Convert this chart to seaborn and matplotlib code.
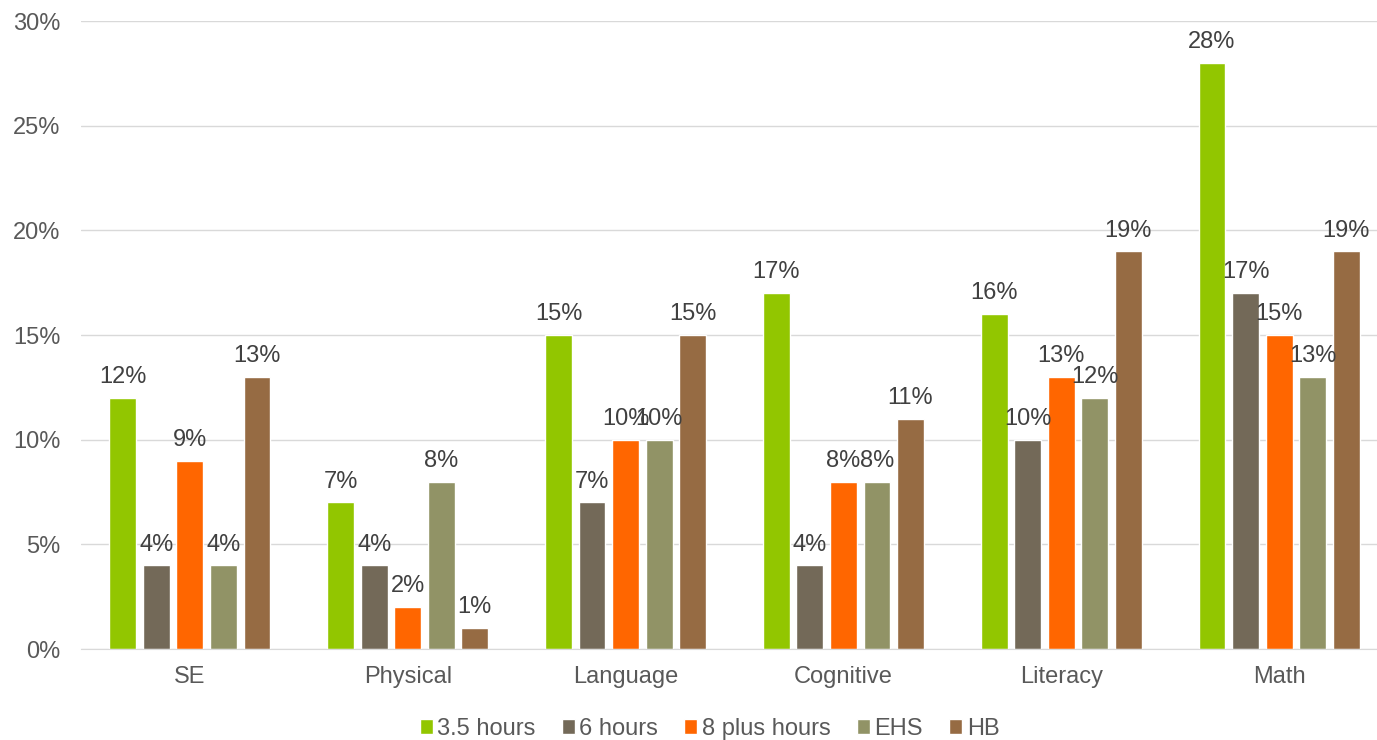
import pandas as pd
import matplotlib.pyplot as plt
import seaborn as sns

categories = ['SE', 'Physical', 'Language', 'Cognitive', 'Literacy', 'Math']
groups = ['3.5 hours', '6 hours', '8 plus hours', 'EHS', 'HB']
v_35 = [12, 7, 15, 17, 16, 28]
v_6 = [4, 4, 7, 4, 10, 17]
v_8 = [9, 2, 10, 8, 13, 15]
v_ehs = [4, 8, 10, 8, 12, 13]
v_hb = [13, 1, 15, 11, 19, 19]
colors = ['#92C600', '#736958', '#FF6600', '#919366', '#966B43']

rows = []
for g, vals in zip(groups, [v_35, v_6, v_8, v_ehs, v_hb]):
    for c, v in zip(categories, vals):
        rows.append({'cat': c, 'group': g, 'val': v / 100})
df = pd.DataFrame(rows)

sns.set_style('white')
plt.rcParams['font.family'] = ['Liberation Sans', 'DejaVu Sans']

fig = plt.figure(figsize=(13.77, 7.4), dpi=100)
ax = fig.add_axes([81 / 1377, 91 / 740, 1307 / 1377, 628 / 740])

sns.barplot(data=df, x='cat', y='val', hue='group', order=categories,
            hue_order=groups, palette=colors, width=0.77, gap=0.2,
            saturation=1, ax=ax, legend=True)

# etiquetas de valor encima de cada barra
for cont in ax.containers:
    labels = ['{:.0f}%'.format(b.get_height() * 100) for b in cont]
    ax.bar_label(cont, labels=labels, padding=7, fontsize=17, color='#404040')

ax.set_ylim(0, 0.30)
ax.set_yticks([0, 0.05, 0.10, 0.15, 0.20, 0.25, 0.30])
ax.set_yticklabels(['0%', '5%', '10%', '15%', '20%', '25%', '30%'])
ax.set_xlim(-0.5, 5.5)
ax.yaxis.grid(True, color='#D9D9D9', linewidth=1)
ax.set_axisbelow(True)
for s in ['top', 'right', 'left']:
    ax.spines[s].set_visible(False)
ax.spines['bottom'].set_color('#D9D9D9')
ax.tick_params(axis='both', length=0, labelsize=17, colors='#595959')
ax.tick_params(axis='x', pad=12)
ax.tick_params(axis='y', pad=15)
ax.set_xlabel('')
ax.set_ylabel('')

handles, lbls = ax.get_legend_handles_labels()
ax.legend(handles, lbls, loc='center', bbox_to_anchor=(0.5 - 25 / 1307, -0.127),
          ncol=5, frameon=False, fontsize=17, handlelength=0.55, handleheight=0.55,
          handletextpad=0.2, columnspacing=1.1, labelcolor='#595959')

fig.savefig('out.png', dpi=100)
